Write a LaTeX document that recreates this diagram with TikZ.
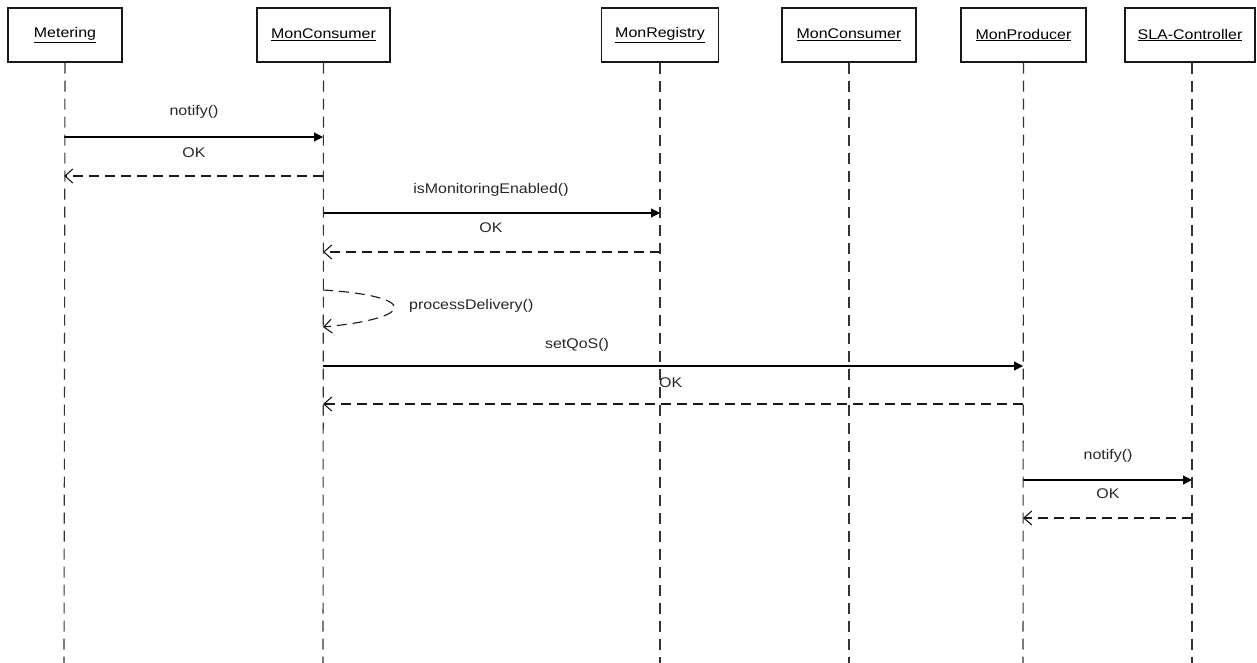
\documentclass[tikz,border=0pt]{standalone}
\usepackage{fontspec}
\setmainfont{Liberation Sans}[FakeStretch=1.14]
\usetikzlibrary{arrows.meta}
\begin{document}
\begin{tikzpicture}[x=1pt,y=-1pt,
  font=\fontsize{14}{16}\selectfont,
  objbox/.style={draw=black!90,line width=1.2pt,minimum height=54pt,inner sep=0pt,fill=white},
  lifeline/.style={draw=black!80,line width=1.1pt,dash pattern=on 11pt off 7pt},
  callmsg/.style={draw=black,line width=1.1pt,-{Triangle[length=9pt,width=9pt]}},
  retmsg/.style={draw=black!90,line width=1.1pt,dash pattern=on 10pt off 6pt,-{Straight Barb[length=8pt,width=14pt,line width=1.1pt]}},
  msglabel/.style={inner sep=0pt,text=black!85}]
\useasboundingbox (0,0) rectangle (1257,663);

% participants
\node[objbox,minimum width=114pt] (met) at (65,35) {\underline{Metering}};
\node[objbox,minimum width=133pt] (mc1) at (323.5,35) {\underline{MonConsumer}};
\node[objbox,minimum width=117pt] (reg) at (660,35) {\underline{MonRegistry}};
\node[objbox,minimum width=134pt] (mc2) at (849,35) {\underline{MonConsumer}};
\node[objbox,minimum width=125pt] (prod) at (1023.5,35) {\underline{MonProducer}};
\node[objbox,minimum width=130pt] (sla) at (1190,35) {\underline{SLA-Controller}};

% lifeline ends
\coordinate (metE) at (64,663);
\coordinate (mc1E) at (323,663);
\coordinate (regE) at (660,663);
\coordinate (mc2E) at (849,663);
\coordinate (prodE) at (1023,663);
\coordinate (slaE) at (1192,663);

% message anchors on the lifelines
\coordinate (a1) at (64,137);   \coordinate (b1) at (323,137);
\coordinate (a2) at (323,176);  \coordinate (b2) at (64,176);
\coordinate (a3) at (323,213);  \coordinate (b3) at (660,213);
\coordinate (a4) at (660,252);  \coordinate (b4) at (323,252);
\coordinate (s1) at (323,290);  \coordinate (s2) at (323,327);
\coordinate (a5) at (323,366);  \coordinate (b5) at (1023,366);
\coordinate (a6) at (1023,404); \coordinate (b6) at (323,404);
\coordinate (a7) at (1023,480); \coordinate (b7) at (1192,480);
\coordinate (a8) at (1192,518); \coordinate (b8) at (1023,518);

% messages
\draw[callmsg] (a1) -- (b1);
\draw[retmsg] (a2) -- (b2);
\draw[callmsg] (a3) -- (b3);
\draw[retmsg] (a4) -- (b4);
\draw[retmsg] (s1) .. controls (418,296) and (418,318) .. (s2);
\draw[callmsg] (a5) -- (b5);
\draw[retmsg] (a6) -- (b6);
\draw[callmsg] (a7) -- (b7);
\draw[retmsg] (a8) -- (b8);

% lifelines
\draw[lifeline] (met.south) -- (metE);
\draw[lifeline] (mc1.south) -- (mc1E);
\draw[lifeline] (reg.south) -- (regE);
\draw[lifeline] (mc2.south) -- (mc2E);
\draw[lifeline] (prod.south) -- (prodE);
\draw[lifeline] ([xshift=2pt]sla.south) -- (slaE);

% message labels
\node[msglabel] (l1) at (194,112) {notify()};
\node[msglabel] (l2) at (194,153) {OK};
\node[msglabel] (l3) at (491,190) {isMonitoringEnabled()};
\node[msglabel] (l4) at (491,228) {OK};
\node[msglabel,anchor=west] (l5) at (409,306) {processDelivery()};
\node[msglabel] (l6) at (577,345) {setQoS()};
\node[msglabel,anchor=west] (l7) at (659,383) {OK};
\node[msglabel] (l8) at (1108,456) {notify()};
\node[msglabel] (l9) at (1108,494) {OK};
\end{tikzpicture}
\end{document}
